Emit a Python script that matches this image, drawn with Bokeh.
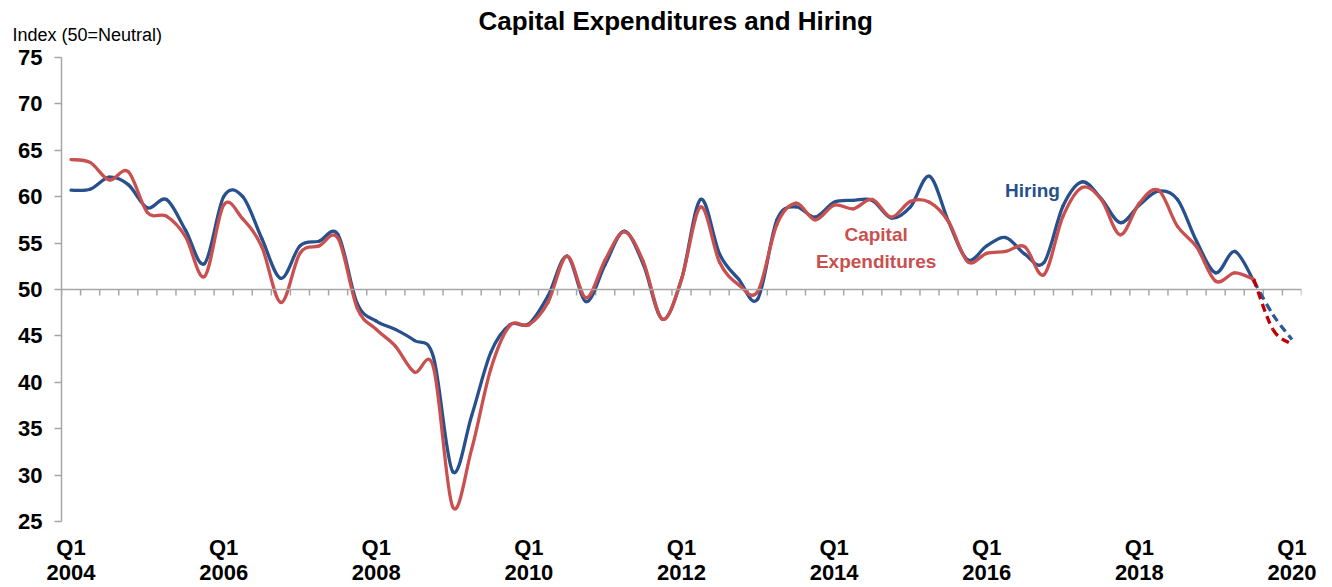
import numpy as np
from bokeh.plotting import figure
from bokeh.models import (Range1d, FixedTicker, Span, Label, ColumnDataSource, Title,
                          LinearAxis)
from bokeh.embed import file_html
from bokeh.resources import INLINE

# ---- data (quarterly, Q1 2004 .. Q1 2020) ----
quarters = [f"{y} Q{q}" for y in range(2004, 2021) for q in range(1, 5)][:65]
hiring = [60.7, 60.8, 62.1, 61.3, 58.8, 59.7, 56.4, 52.8, 60.0, 60.0,
          55.5, 51.2, 54.7, 55.2, 55.9, 48.5, 46.6, 45.7, 44.5, 42.7,
          30.4, 36.4, 43.2, 46.2, 46.3, 49.3, 53.6, 48.7, 52.7, 56.3,
          52.7, 46.8, 51.1, 59.7, 53.8, 51.1, 49.0, 57.5, 58.9, 57.8,
          59.4, 59.6, 59.6, 57.7, 58.9, 62.2, 57.3, 53.2, 54.7, 55.6,
          53.8, 52.9, 59.0, 61.6, 59.8, 57.2, 59.1, 60.6, 59.7, 55.2,
          51.8, 54.1, 50.9, 47.3, 44.6]
capex = [64.0, 63.7, 61.8, 62.7, 58.3, 57.9, 55.7, 51.4, 59.1, 57.6,
         54.6, 48.6, 53.9, 54.7, 55.5, 48.0, 45.7, 43.9, 41.1, 41.6,
         26.6, 32.8, 41.4, 46.1, 46.2, 48.6, 53.6, 49.1, 53.2, 56.2,
         53.0, 46.8, 51.1, 58.9, 52.9, 50.5, 49.8, 57.0, 59.3, 57.5,
         59.1, 58.7, 59.7, 57.8, 59.5, 59.4, 57.3, 53.0, 53.9, 54.1,
         54.6, 51.6, 57.9, 61.0, 59.7, 55.9, 59.3, 60.7, 56.8, 54.6,
         50.9, 51.8, 51.1, 45.7, 44.1]
forecast_start = 62  # last actual point; dashed from here on
tick_idx = [0, 8, 16, 24, 32, 40, 48, 56, 64]
tick_labels = ["Q1\n2004", "Q1\n2006", "Q1\n2008", "Q1\n2010", "Q1\n2012",
               "Q1\n2014", "Q1\n2016", "Q1\n2018", "Q1\n2020"]
y_ticks = [25, 30, 35, 40, 45, 50, 55, 60, 65, 70, 75]

FONT = "Liberation Sans"
BLUE = "#27508C"
RED = "#C9504E"
BLUE_D = "#2C5A98"
RED_D = "#C00000"
GRAY = "#A6A6A6"

# ---- layout constants ----
W, H = 1320, 587
LEFT, RIGHT, TOP, BOTTOM = 61, 19, 57, 64
PPU = (H - TOP - BOTTOM) / (75 - 25)   # pixels per index point


def smooth(xs, ys):
    """Cubic Bezier segments through the points (Catmull-Rom control points)."""
    xs = np.asarray(xs, float)
    ys = np.asarray(ys, float)
    xp = np.concatenate([[xs[0]], xs, [xs[-1]]])
    yp = np.concatenate([[ys[0]], ys, [ys[-1]]])
    n = len(xs)
    i = np.arange(n - 1)
    return dict(
        x0=xs[:-1], y0=ys[:-1], x1=xs[1:], y1=ys[1:],
        cx0=xs[:-1] + (xp[i + 2] - xp[i]) / 6.0,
        cy0=ys[:-1] + (yp[i + 2] - yp[i]) / 6.0,
        cx1=xs[1:] - (xp[i + 3] - xp[i + 1]) / 6.0,
        cy1=ys[1:] - (yp[i + 3] - yp[i + 1]) / 6.0,
    )


idx = np.arange(len(quarters))

p = figure(width=W, height=H, x_range=Range1d(-0.5, len(quarters) - 0.5),
           y_range=Range1d(25, 75), output_backend="svg", toolbar_location=None,
           x_axis_type=None, title=None, min_border_left=LEFT, min_border_right=RIGHT,
           min_border_top=TOP, min_border_bottom=BOTTOM)
p.outline_line_color = None
p.grid.visible = False
p.background_fill_color = "white"

ya = p.yaxis[0]
ya.ticker = FixedTicker(ticks=y_ticks)
ya.axis_line_color = GRAY
ya.axis_line_width = 1.5
ya.major_tick_line_color = GRAY
ya.major_tick_line_width = 1.5
ya.major_tick_out = 7
ya.major_tick_in = 0
ya.minor_tick_line_color = None
ya.major_label_standoff = 12
ya.major_label_text_font = FONT
ya.major_label_text_font_style = "bold"
ya.major_label_text_font_size = "22px"
ya.major_label_text_color = "black"

# category labels below the plot
xa = LinearAxis(ticker=FixedTicker(ticks=tick_idx),
                major_label_overrides={int(t): s for t, s in zip(tick_idx, tick_labels)},
                axis_line_color=None, major_tick_line_color=None,
                minor_tick_line_color=None, major_tick_out=0, major_tick_in=0,
                major_label_standoff=13, major_label_text_font=FONT,
                major_label_text_font_style="bold", major_label_text_font_size="22px",
                major_label_text_color="black", major_label_text_line_height=1.0)
p.add_layout(xa, "below")

# titles (stacked above the frame)
p.add_layout(Title(text="Index (50=Neutral)", align="left", offset=-49, standoff=26,
                   text_font=FONT, text_font_style="normal", text_font_size="18px",
                   text_color="black"), "above")
p.add_layout(Title(text="Capital Expenditures and Hiring", align="left", offset=417,
                   standoff=-52, text_font=FONT, text_font_style="bold",
                   text_font_size="26px", text_color="black"), "above")

# horizontal axis line at the neutral value, with quarter ticks below it
p.add_layout(Span(location=50, dimension="width", line_color=GRAY, line_width=1.5))
bounds = np.arange(len(quarters) + 1) - 0.5
tick_len = 6 / PPU
p.segment(x0=bounds, y0=np.full(len(bounds), 50.0), x1=bounds,
          y1=np.full(len(bounds), 50.0 - tick_len), line_color=GRAY, line_width=1.5)

# actual series (smoothed)
nb = forecast_start + 1
sb = smooth(idx[:nb], hiring[:nb])
p.bezier(line_color=BLUE, line_width=3.3, line_cap="round", source=ColumnDataSource(sb),
         x0="x0", y0="y0", x1="x1", y1="y1", cx0="cx0", cy0="cy0", cx1="cx1", cy1="cy1")
sr = smooth(idx[:nb], capex[:nb])
p.bezier(line_color=RED, line_width=3.3, line_cap="round", source=ColumnDataSource(sr),
         x0="x0", y0="y0", x1="x1", y1="y1", cx0="cx0", cy0="cy0", cx1="cx1", cy1="cy1")

# forecast (dashed)
fb = smooth(idx[forecast_start:], hiring[forecast_start:])
p.bezier(line_color=BLUE_D, line_width=3.3, line_dash="8 5", source=ColumnDataSource(fb),
         x0="x0", y0="y0", x1="x1", y1="y1", cx0="cx0", cy0="cy0", cx1="cx1", cy1="cy1")
fr = smooth(idx[forecast_start:], capex[forecast_start:])
p.bezier(line_color=RED_D, line_width=3.3, line_dash="8 5", source=ColumnDataSource(fr),
         x0="x0", y0="y0", x1="x1", y1="y1", cx0="cx0", cy0="cy0", cx1="cx1", cy1="cy1")

# series annotations
p.add_layout(Label(x=50.4, y=60.7, text="Hiring", text_align="center", text_baseline="middle",
                   text_font=FONT, text_font_style="bold", text_font_size="19px",
                   text_color=BLUE))
p.add_layout(Label(x=42.2, y=55.9, text="Capital", text_align="center", text_baseline="middle",
                   text_font=FONT, text_font_style="bold", text_font_size="19px",
                   text_color=RED))
p.add_layout(Label(x=42.2, y=53.0, text="Expenditures", text_align="center",
                   text_baseline="middle", text_font=FONT, text_font_style="bold",
                   text_font_size="19px", text_color=RED))

open("out.html", "w").write(file_html(p, INLINE))
